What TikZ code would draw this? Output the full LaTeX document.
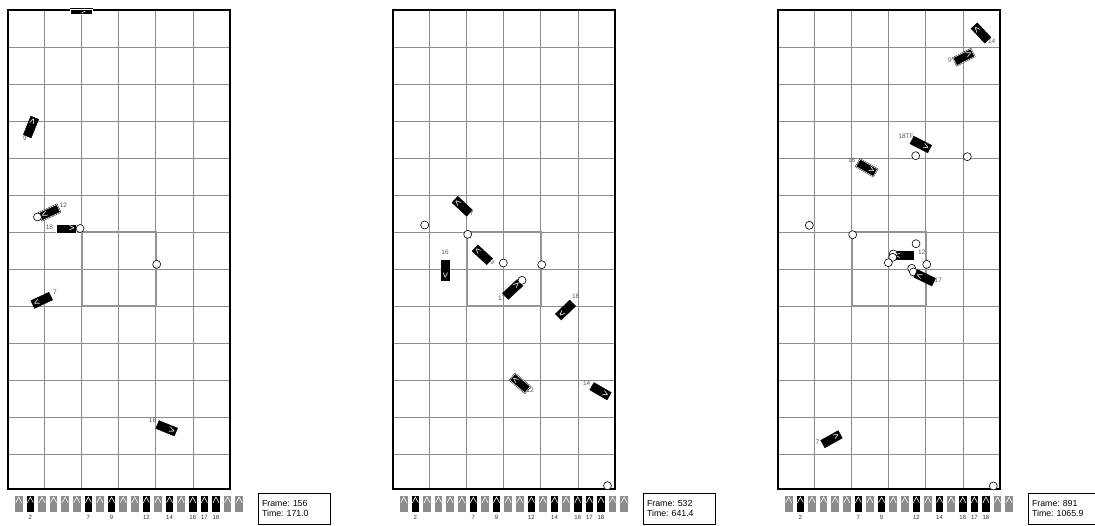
\documentclass[tikz,border=0pt]{standalone}
\usepackage{fontspec}
\setmainfont{Liberation Sans}
\begin{document}
\frenchspacing
\begin{tikzpicture}[x=1pt, y=-1pt,
  grid/.style={draw=black!45, line width=0.8pt},
  field/.style={draw=black, line width=2pt},
  zone/.style={draw=black!42, line width=1.8pt},
  bot/.style={rectangle, fill=black, draw=black, line width=0.4pt, text=white, minimum height=8.5pt, text width=17pt, inner xsep=1.5pt, inner ysep=0pt, align=right, font=\fontsize{10}{10}\selectfont},
  dbot/.style={bot, double=white, double distance=0.5pt},
  ball/.style={circle, draw=black, fill=white, line width=0.6pt, minimum size=8pt, inner sep=0pt},
  num/.style={text=black!65, font=\fontsize{6.5}{6.5}\selectfont, inner sep=0pt},
  gbar/.style={rectangle, fill=black!45, minimum width=7.5pt, minimum height=15.5pt, inner sep=0pt},
  kbar/.style={gbar, fill=black},
  chev/.style={white, line width=0.6pt},
  info/.style={draw=black, line width=0.6pt, text width=64pt, inner xsep=4pt, minimum height=31pt, align=left, font=\fontsize{8.8}{10.5}\selectfont}
]
\useasboundingbox (0,0) rectangle (1095,525);

\foreach \p/\dx/\fr/\tm in {1/0/156/171.0, 2/385/532/641.4, 3/770/891/1065.9} {
  \begin{scope}[shift={(\dx,0)}]
    \draw[grid] \foreach \c in {1,...,5} {(7.5+37.08*\c,10) -- (7.5+37.08*\c,489)};
    \draw[grid] \foreach \r in {1,...,12} {(7.5,10+37*\r) -- (230,10+37*\r)};
    \draw[zone] (81.7,232) rectangle (155.8,306);
    \draw[field] (7.5,10) rectangle (230,489);
    \foreach \i in {1,...,20} \node[gbar] (p\p b\i) at (7.15+11.6*\i,503.8) {};
    \foreach \i in {2,7,9,12,14,16,17,18} {
      \node[kbar] (p\p k\i) at (p\p b\i) {};
      \node[num, text=black!80, font=\fontsize{6}{6}\selectfont] (p\p n\i) at (7.15+11.6*\i,517.5) {\i};
    }
    \foreach \i in {1,...,20}
      \draw[chev] ([xshift=-3pt,yshift=-6.8pt]p\p b\i.north) -- ([yshift=-1.2pt]p\p b\i.north) -- ([xshift=3pt,yshift=-6.8pt]p\p b\i.north);
    \node[info] (p\p info) at (294,508.5) {Frame: \fr\\Time: \tm};
  \end{scope}
}

% frame 156
\node[dbot, minimum height=5pt, text width=19pt] (p1r0) at (81.5,11.5) {};
\draw[chev, line width=0.5pt] ([xshift=0pt,yshift=-1.5pt]p1r0.center) -- ([xshift=4pt,yshift=0.5pt]p1r0.center);
\node[bot, rotate=68] (p1r9) at (31,127) {>};
\node[num] (p1l9) at (25,138) {9};
\node[dbot, rotate=205] (p1r12) at (49.5,212.5) {>};
\node[num] (p1l12) at (63.5,205) {12};
\node[num] (p1l18) at (49.5,227) {18};
\node[dbot] (p1r18) at (66.2,228.7) {>};
\node[ball] (p1o1) at (37.5,217) {};
\node[ball] (p1o2) at (80,228.5) {};
\node[ball] (p1o3) at (156.7,264.3) {};
\node[bot, rotate=205] (p1r7) at (41.7,300.3) {>};
\node[num] (p1l7) at (55,292) {7};
\node[bot, rotate=-22] (p1r16) at (166.7,428.3) {>};
\node[num] (p1l16) at (152.5,420) {16};

% frame 532
\begin{scope}[shift={(385,0)}]
  \node[bot, rotate=137] (p2r7) at (77.2,206.3) {>};
  \node[num] (p2l7) at (86.7,213.3) {7};
  \node[ball] (p2o1) at (39.7,225) {};
  \node[ball] (p2o2) at (82.7,234.3) {};
  \node[bot, rotate=-90] (p2r16) at (60,270.2) {>};
  \node[num] (p2l16) at (60,252.3) {16};
  \node[bot, rotate=137] (p2r9) at (97.3,254.8) {>};
  \node[num] (p2l9) at (107.3,262.3) {9};
  \node[ball] (p2o3) at (118.3,263) {};
  \node[ball] (p2o4) at (156.7,264.7) {};
  \node[bot, rotate=43] (p2r17) at (127.7,289.5) {>};
  \node[num] (p2l17) at (116.7,298.3) {17};
  \node[ball] (p2o5) at (137,280.3) {};
  \node[bot, rotate=224] (p2r18) at (180.5,310) {>};
  \node[num] (p2l18) at (190.7,296.7) {18};
  \node[num] (p2l12) at (145,390.7) {12};
  \node[dbot, rotate=140] (p2r12) at (135,383.3) {>};
  \node[bot, rotate=-30] (p2r14) at (215.5,391.2) {>};
  \node[num] (p2l14) at (201.7,383.3) {14};
  \node[ball] (p2o6) at (222.5,485.7) {};
\end{scope}

% frame 891
\begin{scope}[shift={(770,0)}]
  \node[bot, rotate=133] (p3r14) at (211,33) {>};
  \node[num] (p3l14) at (221.7,41.7) {14};
  \node[dbot, rotate=27] (p3r9) at (193.8,57.2) {>};
  \node[num] (p3l9) at (180,60) {9};
  \node[bot, rotate=-27] (p3r18) at (150.8,144.5) {>};
  \node[num] (p3l18) at (136,136.7) {18TF};
  \node[ball] (p3o1) at (145.7,155.7) {};
  \node[ball] (p3o2) at (197.3,156.7) {};
  \node[dbot, rotate=-30] (p3r16) at (96.7,167.8) {>};
  \node[num] (p3l16) at (81.7,160) {16};
  \node[ball] (p3o3) at (39.3,225.3) {};
  \node[ball] (p3o4) at (82.7,234.7) {};
  \node[ball] (p3o5) at (146,243.7) {};
  \node[bot, rotate=180] (p3r12) at (133.3,255) {>};
  \node[num] (p3l12) at (151.7,252.3) {12};
  \node[ball] (p3o6) at (123.3,254) {};
  \node[ball] (p3o7) at (122.7,257.3) {};
  \node[ball] (p3o8) at (118.3,262.7) {};
  \node[ball] (p3o9) at (156.7,264.3) {};
  \node[ball] (p3o10) at (141.7,268.3) {};
  \node[ball] (p3o11) at (143.3,272) {};
  \node[bot, rotate=154] (p3r17) at (154.7,277.8) {>};
  \node[num] (p3l17) at (168.3,280.7) {17};
  \node[bot, rotate=29] (p3r7) at (61.5,439.2) {>};
  \node[num] (p3l7) at (47.3,442.3) {7};
  \node[ball] (p3o12) at (223.3,486) {};
\end{scope}
\end{tikzpicture}
\end{document}
